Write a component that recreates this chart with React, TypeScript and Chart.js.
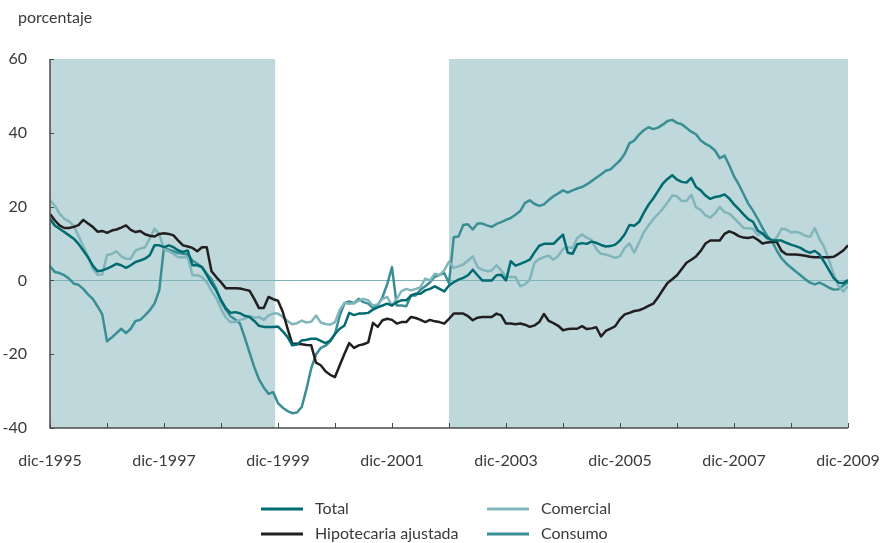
import React, { useEffect, useRef } from 'react';
import { Chart, registerables } from 'chart.js';

Chart.register(...registerables);

// ---- data (monthly, dic-1995 = index 0 ... dic-2009 = index 168) ----
const xTickLabels = ['dic-1995', 'dic-1997', 'dic-1999', 'dic-2001', 'dic-2003', 'dic-2005', 'dic-2007', 'dic-2009'];
const yTickValues = [-40, -20, 0, 20, 40, 60];
const axisTitle = 'porcentaje';
const seriesNames = ['Total', 'Hipotecaria ajustada', 'Comercial', 'Consumo'];
// shaded periods, as [start month index, end month index]
const shadedPeriods = [[0, 47.4], [84, 168]];

const total = [
  16.7, 14.9, 14.0, 13.1, 12.2, 11.3, 9.9, 8.1, 6.3, 4.0, 2.5, 2.7,
  3.2, 3.8, 4.5, 4.1, 3.4, 4.1, 5.0, 5.4, 5.9, 6.8, 9.5, 9.5,
  9.0, 9.5, 9.0, 8.1, 7.7, 8.1, 4.1, 4.1, 3.6, 1.5, -0.8, -2.7,
  -5.3, -7.5, -8.8, -8.6, -8.9, -9.6, -9.9, -11.0, -12.3, -12.6, -12.6, -12.6,
  -12.5, -13.8, -15.3, -17.6, -17.4, -16.3, -16.1, -15.8, -15.8, -16.4, -17.0, -16.3,
  -14.5, -13.1, -12.2, -8.8, -9.4, -9.0, -9.0, -8.8, -7.9, -7.3, -6.8, -6.3,
  -6.8, -5.9, -5.4, -5.4, -4.1, -3.6, -3.6, -2.7, -2.3, -1.6, -2.3, -3.0,
  -1.4, -0.5, 0.2, 0.7, 1.4, 2.9, 1.4, 0.0, 0.0, 0.0, 1.4, 1.5,
  0.0, 5.2, 4.0, 4.5, 5.0, 5.6, 7.6, 9.4, 9.9, 9.9, 9.9, 11.2,
  12.4, 7.5, 7.2, 9.8, 10.1, 9.9, 10.5, 10.2, 9.6, 9.2, 9.3, 9.7,
  10.8, 12.5, 15.0, 14.8, 15.8, 18.3, 20.5, 22.2, 24.2, 26.2, 27.5, 28.5,
  27.3, 26.7, 26.5, 27.8, 25.3, 24.4, 23.0, 22.1, 22.6, 22.8, 23.3, 22.2,
  20.6, 19.3, 17.9, 16.6, 15.9, 13.5, 12.7, 11.5, 10.9, 10.8, 10.8, 10.2,
  9.7, 9.3, 8.8, 8.0, 7.5, 8.0, 7.0, 5.0, 2.8, 0.6, -0.6, -0.8,
  0.1,
];

const hipotecaria = [
  18.0, 16.3, 14.9, 14.2, 14.2, 14.5, 15.0, 16.4, 15.4, 14.5, 13.2, 13.4,
  12.9, 13.5, 13.8, 14.3, 14.9, 13.7, 13.1, 13.4, 12.5, 12.1, 11.9, 12.6,
  12.8, 12.6, 12.2, 10.8, 9.5, 9.2, 8.8, 7.9, 9.0, 9.0, 2.5, 0.9,
  -0.5, -2.1, -2.1, -2.1, -2.2, -2.5, -2.8, -5.0, -7.5, -7.5, -4.5, -5.1,
  -5.5, -8.5, -13.0, -17.2, -17.2, -17.3, -17.5, -17.6, -22.3, -23.0, -24.6, -25.6,
  -26.2, -23.0, -19.9, -17.0, -18.3, -17.6, -17.3, -16.8, -11.5, -12.6, -10.8, -10.4,
  -10.7, -11.7, -11.3, -11.3, -9.9, -10.2, -10.7, -11.3, -10.7, -11.1, -11.3, -11.7,
  -10.4, -9.0, -9.0, -9.0, -9.7, -10.8, -10.1, -9.9, -9.9, -9.9, -9.0, -9.5,
  -11.7, -11.7, -11.9, -11.7, -12.0, -12.6, -12.2, -11.3, -9.1, -11.0, -11.6, -12.3,
  -13.5, -13.2, -13.1, -13.1, -12.4, -13.2, -13.0, -12.7, -15.2, -13.7, -13.1, -12.4,
  -10.5, -9.2, -8.8, -8.3, -8.1, -7.6, -6.9, -6.3, -4.6, -2.6, -0.7, 0.3,
  1.4, 3.1, 4.8, 5.6, 6.5, 8.0, 10.0, 10.8, 10.8, 10.8, 12.6, 13.3,
  12.8, 12.0, 11.6, 11.5, 11.8, 11.0, 10.0, 10.3, 10.4, 10.4, 8.0, 7.1,
  7.0, 7.0, 6.9, 6.7, 6.4, 6.3, 6.3, 6.3, 6.3, 6.4, 7.2, 8.1,
  9.5,
];

const comercial = [
  21.7, 20.3, 18.1, 16.7, 16.0, 14.8, 12.0, 9.3, 6.5, 3.2, 1.5, 1.6,
  6.8, 7.2, 7.9, 6.5, 5.9, 5.9, 8.1, 8.6, 9.0, 11.3, 14.0, 12.6,
  8.5, 7.9, 7.2, 6.3, 6.3, 6.3, 1.4, 1.4, 0.9, -0.5, -2.8, -4.8,
  -7.7, -10.0, -11.3, -11.3, -10.7, -10.4, -9.6, -10.1, -9.9, -10.7, -9.5, -9.0,
  -9.0, -9.9, -11.0, -11.9, -11.6, -10.9, -11.4, -11.2, -9.5, -11.4, -11.8, -12.0,
  -11.3, -8.0, -6.1, -6.3, -6.2, -5.5, -5.0, -5.4, -6.8, -6.5, -5.0, -4.5,
  -6.8, -5.0, -2.9, -2.3, -2.7, -2.3, -1.8, 0.5, 0.0, 1.8, 1.4, 2.7,
  5.1, 3.4, 3.8, 4.3, 5.4, 6.5, 3.6, 2.9, 2.5, 2.7, 4.1, 2.7,
  0.9, 0.9, 0.9, -1.6, -1.1, 0.2, 4.8, 5.8, 6.3, 6.7, 5.6, 6.6,
  8.5, 9.0, 8.8, 11.5, 12.4, 11.6, 11.0, 8.5, 7.2, 7.0, 6.6, 6.1,
  6.6, 8.8, 10.0, 7.5, 10.2, 13.0, 14.9, 16.6, 18.0, 19.4, 21.1, 23.0,
  22.8, 21.5, 21.5, 23.2, 19.8, 19.1, 17.6, 17.0, 18.2, 19.9, 18.5, 18.1,
  16.9, 15.6, 14.2, 14.1, 14.0, 12.3, 12.7, 11.2, 10.8, 11.6, 14.0, 13.8,
  13.0, 13.2, 12.8, 12.1, 11.8, 14.2, 11.2, 9.0, 5.5, 1.6, -1.5, -3.0,
  -1.5,
];

const consumo = [
  3.8, 2.3, 2.0, 1.4, 0.5, -0.9, -1.2, -2.3, -3.8, -5.0, -7.0, -9.2,
  -16.5, -15.5, -14.3, -13.1, -14.3, -13.1, -11.0, -10.7, -9.5, -8.1, -6.3, -2.7,
  9.0, 8.3, 7.9, 7.4, 7.2, 7.0, 5.4, 4.5, 3.6, 1.8, 0.3, -2.3,
  -5.7, -7.9, -9.7, -10.6, -11.7, -15.5, -19.5, -23.5, -26.8, -29.0, -30.7, -30.3,
  -33.3, -34.5, -35.4, -36.0, -35.8, -34.3, -29.4, -23.8, -20.1, -18.3, -17.7, -16.5,
  -14.5, -9.5, -6.2, -5.7, -6.2, -5.0, -5.9, -6.3, -7.5, -6.8, -4.5, -1.0,
  3.6, -6.8, -6.8, -7.0, -4.1, -4.1, -2.5, -1.6, -0.5, 1.0, 1.5, 2.0,
  -0.8, 11.7, 11.9, 15.0, 15.2, 13.8, 15.4, 15.4, 14.9, 14.5, 15.3, 15.8,
  16.4, 16.9, 17.8, 18.8, 21.0, 21.7, 20.7, 20.2, 20.6, 21.8, 22.8, 23.6,
  24.4, 23.8, 24.4, 24.9, 25.3, 26.0, 26.9, 27.8, 28.7, 29.7, 30.1, 31.3,
  32.5, 34.3, 37.2, 37.9, 39.5, 40.7, 41.5, 41.0, 41.4, 42.2, 43.2, 43.5,
  42.7, 42.3, 41.3, 40.3, 39.6, 37.9, 37.0, 36.3, 35.2, 33.1, 33.8, 31.2,
  28.2, 26.0, 23.4, 20.8, 18.9, 16.7, 14.2, 12.0, 10.6, 8.1, 6.0, 4.6,
  3.5, 2.4, 1.4, 0.3, -0.6, -1.1, -0.6, -1.2, -2.0, -2.5, -2.4, -1.4,
  -0.5,
];

const seriesValues = [total, hipotecaria, comercial, consumo];
const seriesColors = ['#006b70', '#231f20', '#80b6bb', '#3a8f95'];

const FONT = 'Lato, "Open Sans", sans-serif';
const TEXT_COLOR = '#3a3a3a';
const AXIS_COLOR = '#4a4a4a';
const SHADE_COLOR = '#bed8db';
const ZERO_COLOR = '#7fb3b8';

const decorPlugin = {
  id: 'decor',
  beforeDatasetsDraw(chart: any) {
    const { ctx, chartArea, scales } = chart;
    const x = scales.x;
    const y = scales.y;
    ctx.save();
    ctx.fillStyle = SHADE_COLOR;
    shadedPeriods.forEach(([a, b]) => {
      const x0 = x.getPixelForValue(a);
      const x1 = x.getPixelForValue(b);
      ctx.fillRect(x0, chartArea.top, x1 - x0, chartArea.bottom - chartArea.top);
    });
    const y0 = Math.round(y.getPixelForValue(0)) + 0.5;
    ctx.strokeStyle = ZERO_COLOR;
    ctx.lineWidth = 1;
    ctx.beginPath();
    ctx.moveTo(chartArea.left, y0);
    ctx.lineTo(chartArea.right, y0);
    ctx.stroke();
    ctx.restore();
  },
  afterDatasetsDraw(chart: any) {
    const { ctx, chartArea, scales } = chart;
    const x = scales.x;
    const y = scales.y;
    ctx.save();
    ctx.strokeStyle = AXIS_COLOR;
    ctx.lineWidth = 1.5;
    ctx.beginPath();
    ctx.moveTo(chartArea.left, chartArea.top);
    ctx.lineTo(chartArea.left, chartArea.bottom);
    ctx.lineTo(chartArea.right, chartArea.bottom);
    ctx.stroke();
    ctx.lineWidth = 1;
    ctx.beginPath();
    yTickValues.forEach((v) => {
      const py = Math.round(y.getPixelForValue(v)) + 0.5;
      ctx.moveTo(chartArea.left, py);
      ctx.lineTo(chartArea.left + 4, py);
    });
    for (let m = 0; m <= 168; m += 12) {
      const px = Math.round(x.getPixelForValue(m)) + 0.5;
      ctx.moveTo(px, chartArea.bottom);
      ctx.lineTo(px, chartArea.bottom - 5);
    }
    ctx.stroke();
    ctx.restore();
  },
  afterDraw(chart: any) {
    const { ctx, chartArea, scales } = chart;
    ctx.save();
    ctx.fillStyle = TEXT_COLOR;
    ctx.font = `16px ${FONT}`;
    ctx.textBaseline = 'middle';
    ctx.textAlign = 'left';
    ctx.fillText(axisTitle, 18, 18);
    // x tick labels (every 24 months)
    ctx.textAlign = 'center';
    xTickLabels.forEach((lab, i) => {
      ctx.fillText(lab, scales.x.getPixelForValue(i * 24), chartArea.bottom + 33);
    });
    // legend, two columns
    ctx.textAlign = 'left';
    const cols = [[261, 315], [487, 541]];
    const rows = [509, 534];
    const order = [0, 2, 1, 3];
    order.forEach((si, k) => {
      const col = cols[k % 2];
      const row = rows[Math.floor(k / 2)];
      ctx.strokeStyle = seriesColors[si];
      ctx.lineWidth = 3;
      ctx.beginPath();
      ctx.moveTo(col[0], row);
      ctx.lineTo(col[0] + 42, row);
      ctx.stroke();
      ctx.fillStyle = TEXT_COLOR;
      ctx.fillText(seriesNames[si], col[1], row);
    });
    ctx.restore();
  },
};

export default function App() {
  const ref = useRef<HTMLCanvasElement | null>(null);
  useEffect(() => {
    if (!ref.current) return;
    const chart = new Chart(ref.current, {
      type: 'line',
      data: {
        datasets: seriesValues.map((vals, i) => ({
          label: seriesNames[i],
          data: vals.map((v, m) => ({ x: m, y: v })),
          borderColor: seriesColors[i],
          backgroundColor: seriesColors[i],
          borderWidth: 2.5,
          pointRadius: 0,
          tension: 0,
          fill: false,
          borderJoinStyle: 'round',
        })),
      },
      options: {
        responsive: false,
        animation: false,
        events: [],
        layout: { padding: { top: 59, right: 37, left: 0, bottom: 0 } },
        plugins: { legend: { display: false }, tooltip: { enabled: false } },
        scales: {
          x: {
            type: 'linear',
            min: 0,
            max: 168,
            afterFit: (s: any) => { s.height = 115; },
            grid: { display: false },
            border: { display: false },
            ticks: { display: false },
          },
          y: {
            min: -40,
            max: 60,
            afterFit: (s: any) => { s.width = 50; },
            afterBuildTicks: (s: any) => { s.ticks = yTickValues.map((v) => ({ value: v })); },
            grid: { display: false },
            border: { display: false },
            ticks: {
              padding: 15,
              color: TEXT_COLOR,
              font: { family: FONT, size: 16 },
              callback: (v: any) => String(v),
            },
          },
        },
      },
      plugins: [decorPlugin],
    } as any);
    return () => chart.destroy();
  }, []);
  return (
    <div style={{ position: 'fixed', left: 0, top: 0, width: 885, height: 543, background: '#fff' }}>
      <canvas ref={ref} width={885} height={543} style={{ display: 'block', width: 885, height: 543 }} />
    </div>
  );
}
